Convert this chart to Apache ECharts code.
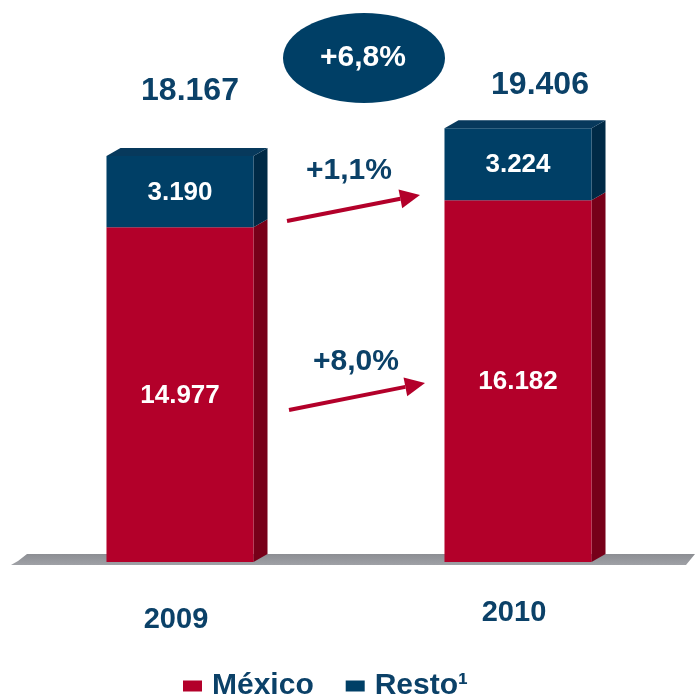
<!DOCTYPE html>
<html><head><meta charset="utf-8">
<script src="https://cdn.jsdelivr.net/npm/echarts@6/dist/echarts.min.js"></script>
<style>html,body{margin:0;padding:0;background:#fff}#c{width:695px;height:694px}</style>
</head><body><div id="c"></div>
<script>
// ---- data ----
const years = ['2009', '2010'];
const mexico = [14977, 16182];
const resto = [3190, 3224];
const totals = [18167, 19406];
const growthTotal = '+6,8%';
const growthResto = '+1,1%';
const growthMexico = '+8,0%';
const seriesNames = ['México', 'Resto¹'];

// ---- styles ----
const RED = '#b3002a', RED_SIDE = '#770019';
const NAVY = '#003f66', NAVY_SIDE = '#002a46', NAVY_TOP = '#07395c';
const TXT = '#0b4168';
const FONT = '"Liberation Sans", Arial, sans-serif';
const DX = 14, DY = 8;
const totalOffsets = [[10, -65], [22, -43]];

function fmt(n) { return String(n).replace(/\B(?=(\d{3})+(?!\d))/g, '.'); }

function makeRender(isTop) {
  return function (params, api) {
    const i = api.value(0), lo = api.value(1), hi = api.value(2), v = api.value(3);
    const b = api.coord([i, lo]), t = api.coord([i, hi]);
    const w = api.size([1, 0])[0] * 0.435;
    const xL = b[0] - w / 2, xR = b[0] + w / 2, yB = b[1], yT = t[1];
    const front = isTop ? NAVY : RED, side = isTop ? NAVY_SIDE : RED_SIDE;
    const children = [
      { type: 'polygon', shape: { points: [[xR, yT], [xR + DX, yT - DY], [xR + DX, yB - DY], [xR, yB]] }, style: { fill: side } },
      { type: 'rect', shape: { x: xL, y: yT, width: w, height: yB - yT }, style: { fill: front } },
      { type: 'text', style: { text: fmt(v), x: b[0], y: (yT + yB) / 2 + 1, align: 'center', verticalAlign: 'middle', fill: '#fff', font: 'bold 26px ' + FONT } }
    ];
    if (isTop) {
      children.push({ type: 'polygon', shape: { points: [[xL, yT], [xL + DX, yT - DY], [xR + DX, yT - DY], [xR, yT]] }, style: { fill: NAVY_TOP } });
      const o = totalOffsets[i];
      children.push({ type: 'text', style: { text: fmt(totals[i]), x: b[0] + o[0], y: yT + o[1], align: 'center', verticalAlign: 'middle', fill: TXT, font: 'bold 32px ' + FONT } });
    }
    return { type: 'group', children: children };
  };
}

function arrow(x1, y1, x2, y2) {
  const ang = Math.atan2(y2 - y1, x2 - x1), L = 20, H = 9.5;
  const bx = x2 - L * Math.cos(ang), by = y2 - L * Math.sin(ang);
  const nx = -Math.sin(ang), ny = Math.cos(ang);
  return {
    type: 'group', z: 10, children: [
      { type: 'line', shape: { x1: x1, y1: y1, x2: bx, y2: by }, style: { stroke: RED, lineWidth: 4 } },
      { type: 'polygon', shape: { points: [[x2, y2], [bx + nx * H, by + ny * H], [bx - nx * H, by - ny * H]] }, style: { fill: RED } }
    ]
  };
}

const mxData = years.map((y, i) => [i, 0, mexico[i], mexico[i]]);
const rsData = years.map((y, i) => [i, mexico[i], mexico[i] + resto[i], resto[i]]);

const chart = echarts.init(document.getElementById('c'));
chart.setOption({
  animation: false,
  grid: { left: 11, right: 8, top: 115, bottom: 132 },
  xAxis: {
    type: 'category',
    data: [{ value: years[0], textStyle: { lineHeight: 42 } }, { value: years[1], textStyle: { lineHeight: 28 } }],
    axisLine: { show: false }, axisTick: { show: false },
    axisLabel: { margin: 37, color: TXT, fontSize: 29, fontWeight: 'bold', fontFamily: FONT, verticalAlign: 'top', padding: [0, 8, 0, 0] }
  },
  yAxis: { type: 'value', min: 0, max: 20000, show: false, splitLine: { show: false } },
  legend: {
    left: 183, top: 671, padding: 0, icon: 'rect', itemWidth: 19, itemHeight: 11, itemGap: 32,
    data: seriesNames,
    textStyle: { color: TXT, fontSize: 30, fontWeight: 'bold', fontFamily: FONT, padding: [0, 0, 0, 5] }
  },
  series: [
    { name: seriesNames[0], type: 'custom', renderItem: makeRender(false), data: mxData, itemStyle: { color: RED }, encode: { x: 0, y: [1, 2] }, z: 5 },
    { name: seriesNames[1], type: 'custom', renderItem: makeRender(true), data: rsData, itemStyle: { color: NAVY }, encode: { x: 0, y: [1, 2] }, z: 5 }
  ],
  graphic: [
    { type: 'polygon', z: 1, shape: { points: [[27, 554], [695, 554], [686, 565], [11, 565], [18, 561]] },
      style: { fill: new echarts.graphic.LinearGradient(0, 0, 0, 1, [{ offset: 0, color: '#8c8e93' }, { offset: 1, color: '#9fa1a6' }]) } },
    { type: 'ellipse', z: 10, shape: { cx: 364, cy: 58, rx: 81, ry: 45 }, style: { fill: NAVY } },
    { type: 'text', z: 11, style: { text: growthTotal, x: 363, y: 58, align: 'center', verticalAlign: 'middle', fill: '#fff', font: 'bold 30px ' + FONT } },
    { type: 'text', z: 11, style: { text: growthResto, x: 349, y: 171, align: 'center', verticalAlign: 'middle', fill: TXT, font: 'bold 30px ' + FONT } },
    { type: 'text', z: 11, style: { text: growthMexico, x: 356, y: 362, align: 'center', verticalAlign: 'middle', fill: TXT, font: 'bold 30px ' + FONT } },
    arrow(287, 221, 420, 195),
    arrow(289, 410, 425, 383)
  ]
});
</script></body></html>
